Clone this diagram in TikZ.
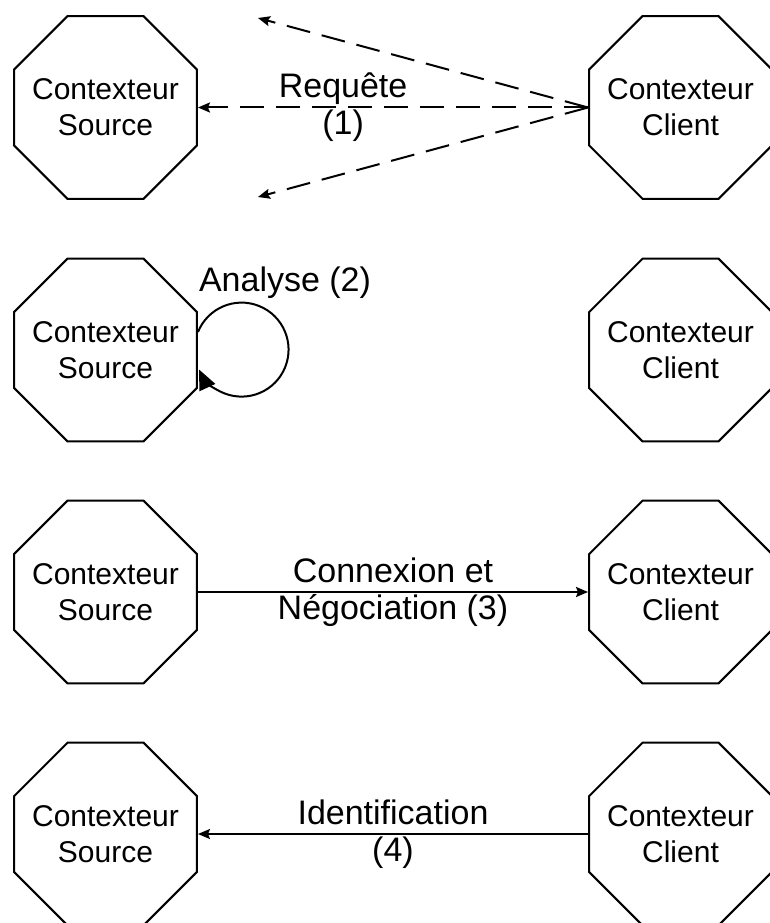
\documentclass[tikz,border=0pt]{standalone}
\usepackage{fontspec}
\setmainfont{Liberation Sans}
\usepackage{tikz}
\usetikzlibrary{arrows.meta,shapes.geometric}

\begin{document}
\begin{tikzpicture}[x=1pt,y=1pt,font=\fontsize{30}{36}\selectfont,line width=2pt,
 oct/.style={draw,regular polygon,regular polygon sides=8,minimum size=198pt,inner sep=0pt,label={[align=center]center:#1}},
 ar/.style={-{Stealth[length=12pt,width=10pt,inset=2pt]}},da/.style={ar,dash pattern=on 24pt off 12pt},
 lbl/.style={align=center,inner sep=0pt,font=\fontsize{34}{37}\selectfont}]
\useasboundingbox (0,0) rectangle (769,-923);
\node[oct={Contexteur\\Source}] (s1) at (105.5,-107.5) {};
\node[oct={Contexteur\\Client}] (c1) at (680.5,-107.5) {};
\node[oct={Contexteur\\Source}] (s2) at (105.5,-350) {};
\node[oct={Contexteur\\Client}] (c2) at (680.5,-350) {};
\node[oct={Contexteur\\Source}] (s3) at (105.5,-592) {};
\node[oct={Contexteur\\Client}] (c3) at (680.5,-592) {};
\node[oct={Contexteur\\Source}] (s4) at (105.5,-834) {};
\node[oct={Contexteur\\Client}] (c4) at (680.5,-834) {};
\coordinate (up) at (258,-18);
\coordinate (dn) at (258,-197);
\draw[da] (c1.west) -- (up);
\draw[da] (c1.west) -- (dn);
\draw[da] (c1.west) -- (s1.east) node[lbl,pos=0.628]{Requête\\(1)};
\draw[-{Triangle[length=20pt,width=17pt]}] ([yshift=18pt]s2.east) arc[start angle=158,end angle=-155,radius=47pt];
\node[lbl] (an) at (285,-283) {Analyse (2)};
\draw[ar] (s3.east) -- (c3.west) node[lbl,midway]{Connexion et\\Négociation (3)};
\draw[ar] (c4.west) -- (s4.east) node[lbl,midway]{Identification\\(4)};
\end{tikzpicture}
\end{document}
